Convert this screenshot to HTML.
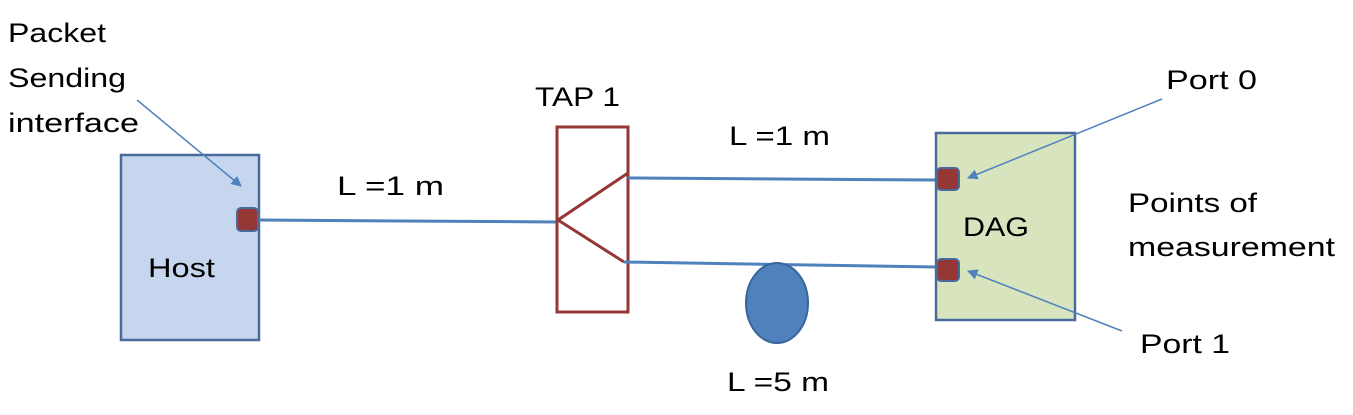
<!DOCTYPE html>
<html><head><meta charset="utf-8"><style>
html,body{margin:0;padding:0;background:#fff;}
svg{display:block;}
text{font-family:"Liberation Sans",sans-serif;font-size:27px;fill:#000;}
</style></head><body>
<svg width="1353" height="415" viewBox="0 0 1353 415">
<defs><marker id="ah" viewBox="0 0 10 10" refX="9" refY="5" markerWidth="7" markerHeight="7" orient="auto"><path d="M0,0 L10,5 L0,10 z" fill="#4f81bd"/></marker></defs>
<rect x="121" y="155" width="138" height="185" fill="#c6d6ee" stroke="#4a6a9c" stroke-width="2.5"/>
<rect x="237" y="208" width="21" height="23" rx="4" fill="#953735" stroke="#4a6a9c" stroke-width="2"/>
<line x1="259" y1="220" x2="557" y2="222" stroke="#4f81bd" stroke-width="3"/>
<rect x="557" y="127" width="71" height="185" fill="none" stroke="#953735" stroke-width="3"/>
<polyline points="628,173 558,220 624,262" fill="none" stroke="#953735" stroke-width="3"/>
<line x1="628" y1="178" x2="937" y2="180" stroke="#4f81bd" stroke-width="3"/>
<line x1="624" y1="262" x2="937" y2="267" stroke="#4f81bd" stroke-width="3"/>
<ellipse cx="777" cy="303" rx="31" ry="40" fill="#4f81bd" stroke="#3a659a" stroke-width="2"/>
<rect x="936" y="133" width="139" height="187" fill="#d7e4bd" stroke="#4a6a9c" stroke-width="2.5"/>
<rect x="937" y="168" width="22" height="22" rx="4" fill="#953735" stroke="#4a6a9c" stroke-width="2"/>
<rect x="937" y="259" width="22" height="22" rx="4" fill="#953735" stroke="#4a6a9c" stroke-width="2"/>
<line x1="137" y1="100" x2="241" y2="186" stroke="#4f81bd" stroke-width="1.5" marker-end="url(#ah)"/>
<line x1="1162" y1="99" x2="968" y2="178" stroke="#4f81bd" stroke-width="1.5" marker-end="url(#ah)"/>
<line x1="1122" y1="331" x2="968" y2="271" stroke="#4f81bd" stroke-width="1.5" marker-end="url(#ah)"/>
<text x="8" y="42" textLength="98" lengthAdjust="spacingAndGlyphs">Packet</text>
<text x="8" y="87" textLength="118" lengthAdjust="spacingAndGlyphs">Sending</text>
<text x="8" y="132" textLength="131" lengthAdjust="spacingAndGlyphs">interface</text>
<text x="148" y="277" textLength="67" lengthAdjust="spacingAndGlyphs">Host</text>
<text x="535" y="106" textLength="85" lengthAdjust="spacingAndGlyphs">TAP 1</text>
<text x="337" y="195" textLength="107" lengthAdjust="spacingAndGlyphs">L =1 m</text>
<text x="729" y="145" textLength="101" lengthAdjust="spacingAndGlyphs">L =1 m</text>
<text x="727" y="391" textLength="102" lengthAdjust="spacingAndGlyphs">L =5 m</text>
<text x="963" y="236" textLength="66" lengthAdjust="spacingAndGlyphs">DAG</text>
<text x="1166" y="89" textLength="91" lengthAdjust="spacingAndGlyphs">Port 0</text>
<text x="1140" y="353" textLength="90" lengthAdjust="spacingAndGlyphs">Port 1</text>
<text x="1128" y="212" textLength="129" lengthAdjust="spacingAndGlyphs">Points of</text>
<text x="1128" y="256" textLength="207" lengthAdjust="spacingAndGlyphs">measurement</text>
</svg>
</body></html>
